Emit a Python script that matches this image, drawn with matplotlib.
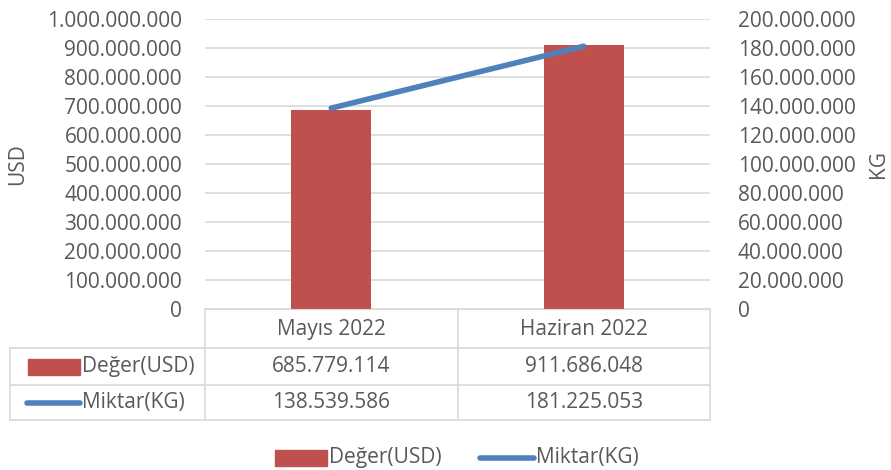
import matplotlib
matplotlib.use("Agg")
import matplotlib.pyplot as plt
from matplotlib.lines import Line2D
from matplotlib.patches import Rectangle
from matplotlib.ticker import FuncFormatter

categories = ["Mayıs 2022", "Haziran 2022"]
usd_values = [685779114, 911686048]
kg_values = [138539586, 181225053]
series_names = ["Değer(USD)", "Miktar(KG)"]
left_label = "USD"
right_label = "KG"

BAR_C = "#C0504D"
LINE_C = "#4F81BD"
TXT_C = "#595959"
GRID_C = "#D9D9D9"
FS = 15

plt.rcParams['font.family'] = ['Open Sans', 'DejaVu Sans']

def fmt(v):
    return f"{int(round(v)):,}".replace(",", ".")

W, H = 891, 470
fig = plt.figure(figsize=(W / 100, H / 100), dpi=100)
L, R, T, B = 205, 710, 19, 309
ax = fig.add_axes([L / W, 1 - B / H, (R - L) / W, (B - T) / H])
x = list(range(len(categories)))
ax.bar(x, usd_values, width=0.315, color=BAR_C, zorder=2)
ax.set_xlim(-0.5, len(categories) - 0.5)
ax.set_ylim(0, 1_000_000_000)
ax.set_yticks(range(0, 1_000_000_001, 100_000_000))
ax.yaxis.set_major_formatter(FuncFormatter(lambda v, p: fmt(v)))
ax.grid(axis='y', color=GRID_C, linewidth=1.2, zorder=0)
ax.set_xticks([])
for s in ["top", "left", "right"]:
    ax.spines[s].set_visible(False)
ax.spines["bottom"].set_color(GRID_C)
ax.tick_params(axis='y', length=0, pad=16.5, labelsize=FS, labelcolor=TXT_C)

ax2 = ax.twinx()
ax2.plot(x, kg_values, color=LINE_C, linewidth=4, solid_capstyle='round', zorder=3)
ax2.set_ylim(0, 200_000_000)
ax2.set_yticks(range(0, 200_000_001, 20_000_000))
ax2.yaxis.set_major_formatter(FuncFormatter(lambda v, p: fmt(v)))
for s in ["top", "left", "right", "bottom"]:
    ax2.spines[s].set_visible(False)
ax2.tick_params(axis='y', length=0, pad=20, labelsize=FS, labelcolor=TXT_C)

# data table overlay in pixel coordinates
ov = fig.add_axes([0, 0, 1, 1], facecolor='none')
ov.set_xlim(0, W)
ov.set_ylim(H, 0)
ov.axis('off')

# axis titles
ov.text(18, (T + B) / 2, left_label, rotation=90, ha='center', va='center', fontsize=FS, color=TXT_C)
ov.text(879, (T + B) / 2, right_label, rotation=90, ha='center', va='center', fontsize=FS, color=TXT_C)

colx = [L + (R - L) * i / len(categories) for i in range(len(categories) + 1)]
rows_y = [309, 348, 385, 420]
lw = 1.2
for cx in colx:
    ov.add_line(Line2D([cx, cx], [rows_y[0], rows_y[-1]], color=GRID_C, lw=lw))
ov.add_line(Line2D([10, 10], [rows_y[1], rows_y[-1]], color=GRID_C, lw=lw))
for ry in rows_y[1:]:
    ov.add_line(Line2D([10, R], [ry, ry], color=GRID_C, lw=lw))
for i, c in enumerate(categories):
    cx = (colx[i] + colx[i + 1]) / 2
    ov.text(cx, (rows_y[0] + rows_y[1]) / 2 + 1, c, ha='center', va='center', fontsize=FS, color=TXT_C)
    ov.text(cx, (rows_y[1] + rows_y[2]) / 2, fmt(usd_values[i]), ha='center', va='center', fontsize=FS, color=TXT_C)
    ov.text(cx, (rows_y[2] + rows_y[3]) / 2, fmt(kg_values[i]), ha='center', va='center', fontsize=FS, color=TXT_C)
# row headers
ym = (rows_y[1] + rows_y[2]) / 2
ov.add_patch(Rectangle((28, ym - 8), 52, 16, color=BAR_C))
ov.text(82, ym, series_names[0], ha='left', va='center', fontsize=FS, color=TXT_C)
ym = (rows_y[2] + rows_y[3]) / 2
ov.add_line(Line2D([27, 80], [ym, ym], color=LINE_C, lw=4, solid_capstyle='round'))
ov.text(82, ym, series_names[1], ha='left', va='center', fontsize=FS, color=TXT_C)
# legend
ly = 458
ov.add_patch(Rectangle((275, ly - 8), 52, 16, color=BAR_C))
ov.text(329, ly, series_names[0], ha='left', va='center', fontsize=FS, color=TXT_C)
ov.add_line(Line2D([480, 534], [ly, ly], color=LINE_C, lw=4, solid_capstyle='round'))
ov.text(536, ly, series_names[1], ha='left', va='center', fontsize=FS, color=TXT_C)

fig.savefig("out.png", dpi=100)
